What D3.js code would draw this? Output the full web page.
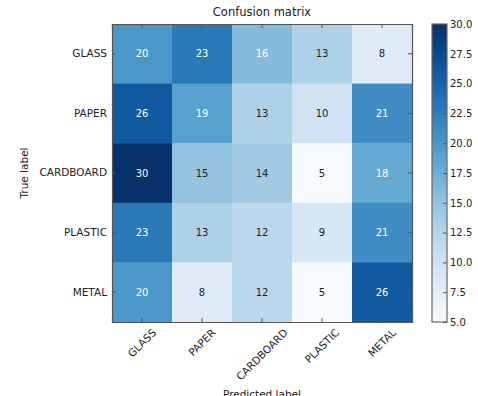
<!DOCTYPE html>
<html>
<head>
<meta charset="utf-8">
<script src="https://cdn.jsdelivr.net/npm/d3@7"></script>
<style>
  body { margin: 0; background: #fff; }
  text { font-family: "DejaVu Sans", sans-serif; fill: #222; }
  .axis path, .axis line { stroke: #555; }
</style>
</head>
<body>
<div id="chart"></div>
<script>
var CLASSES = ["GLASS", "PAPER", "CARDBOARD", "PLASTIC", "METAL"];
var ROW_GLASS = [20, 23, 16, 13, 8];
var ROW_PAPER = [26, 19, 13, 10, 21];
var ROW_CARDBOARD = [30, 15, 14, 5, 18];
var ROW_PLASTIC = [23, 13, 12, 9, 21];
var ROW_METAL = [20, 8, 12, 5, 26];
var CBAR_TICKS = [5.0, 7.5, 10.0, 12.5, 15.0, 17.5, 20.0, 22.5, 25.0, 27.5, 30.0];

var aRows = [ROW_GLASS, ROW_PAPER, ROW_CARDBOARD, ROW_PLASTIC, ROW_METAL];

var W = 478, H = 396;
var PLOT = {left: 112, top: 24, width: 300, height: 298};
var CBAR = {left: 432, width: 15};

var svg = d3.select("#chart").append("svg")
  .attr("width", W).attr("height", H);

var vMin = 5, vMax = 30;
var color = d3.scaleSequential(d3.interpolateBlues).domain([vMin, vMax]);

var x = d3.scaleBand().domain(CLASSES).range([0, PLOT.width]);
var y = d3.scaleBand().domain(CLASSES).range([0, PLOT.height]);

var g = svg.append("g")
  .attr("transform", "translate(" + PLOT.left + "," + PLOT.top + ")");

// flatten cells
var aCells = [];
aRows.forEach(function(aRow, i) {
  aRow.forEach(function(v, j) {
    aCells.push({row: CLASSES[i], col: CLASSES[j], value: v});
  });
});

g.selectAll("rect.cell")
  .data(aCells)
  .enter().append("rect")
  .attr("class", "cell")
  .attr("x", function(d) { return x(d.col); })
  .attr("y", function(d) { return y(d.row); })
  .attr("width", x.bandwidth() + 0.5)
  .attr("height", y.bandwidth() + 0.5)
  .attr("fill", function(d) { return color(d.value); });

var thresh = vMax / 2;
g.selectAll("text.val")
  .data(aCells)
  .enter().append("text")
  .attr("class", "val")
  .attr("x", function(d) { return x(d.col) + x.bandwidth() / 2; })
  .attr("y", function(d) { return y(d.row) + y.bandwidth() / 2; })
  .attr("dy", "0.35em")
  .attr("text-anchor", "middle")
  .style("font-size", "10px")
  .style("fill", function(d) { return d.value > thresh ? "#fff" : "#222"; })
  .text(function(d) { return d.value; });

// axes, ticks pointing inward like matplotlib classic
var yAxis = g.append("g").attr("class", "axis")
  .call(d3.axisLeft(y).tickSize(-4).tickPadding(5));
yAxis.selectAll("text").style("font-size", "10.5px");

var xAxis = g.append("g").attr("class", "axis")
  .attr("transform", "translate(0," + PLOT.height + ")")
  .call(d3.axisBottom(x).tickSize(-4).tickPadding(4));

// rotated labels centred under their tick (matplotlib rotation=45, ha=center)
var FS = 10.5, PAD = 5;
xAxis.selectAll(".tick text")
  .style("font-size", FS + "px")
  .attr("text-anchor", "middle")
  .attr("dy", "0.35em")
  .each(function() {
    var L = this.getComputedTextLength();
    var bh = (L + FS) * Math.SQRT1_2;
    var cy = PAD + bh / 2;
    d3.select(this).attr("y", cy).attr("x", 0)
      .attr("transform", "rotate(-45,0," + cy + ")");
  });

g.append("g").attr("class", "axis")
  .call(d3.axisTop(x).tickSize(-4).tickFormat(""));
g.append("g").attr("class", "axis")
  .attr("transform", "translate(" + PLOT.width + ",0)")
  .call(d3.axisRight(y).tickSize(-4).tickFormat(""));

svg.selectAll(".axis path").attr("stroke", "#666").attr("stroke-width", 1.2);

// labels
svg.append("text")
  .attr("x", PLOT.left + PLOT.width / 2).attr("y", 16)
  .attr("text-anchor", "middle").style("font-size", "11.5px")
  .text("Confusion matrix");

svg.append("text")
  .attr("transform", "translate(28," + (PLOT.top + PLOT.height / 2) + ") rotate(-90)")
  .attr("text-anchor", "middle").style("font-size", "10.5px")
  .text("True label");

svg.append("text")
  .attr("x", PLOT.left + PLOT.width / 2).attr("y", 398)
  .attr("text-anchor", "middle").style("font-size", "10.5px")
  .text("Predicted label");

// colorbar
var cy = d3.scaleLinear().domain([vMin, vMax]).range([PLOT.top + PLOT.height, PLOT.top]);
var defs = svg.append("defs");
var grad = defs.append("linearGradient").attr("id", "cbarGrad")
  .attr("x1", 0).attr("y1", 1).attr("x2", 0).attr("y2", 0);
d3.range(0, 1.0001, 0.05).forEach(function(t) {
  grad.append("stop").attr("offset", t)
    .attr("stop-color", color(vMin + t * (vMax - vMin)));
});
svg.append("rect")
  .attr("x", CBAR.left).attr("y", cy(vMax))
  .attr("width", CBAR.width).attr("height", cy(vMin) - cy(vMax))
  .attr("fill", "url(#cbarGrad)")
  .attr("stroke", "#666").attr("stroke-width", 1.2);

var cAxis = svg.append("g").attr("class", "axis")
  .attr("transform", "translate(" + (CBAR.left + CBAR.width) + ",0)")
  .call(d3.axisRight(cy).tickValues(CBAR_TICKS).tickSize(-4).tickPadding(3)
    .tickFormat(d3.format(".1f")));
cAxis.select(".domain").remove();
cAxis.selectAll("text").style("font-size", "10px");
</script>
</body>
</html>
